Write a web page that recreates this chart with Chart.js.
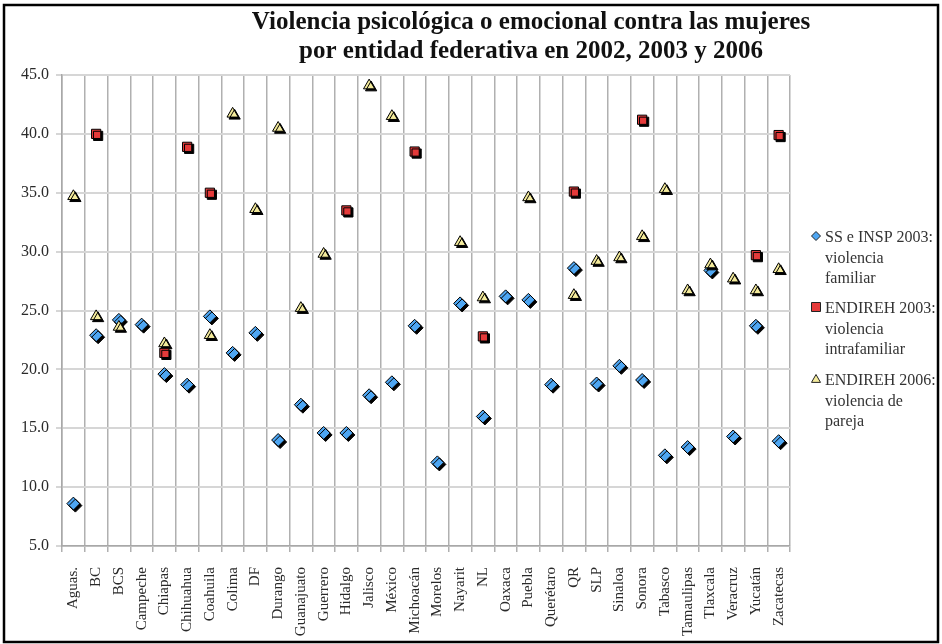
<!DOCTYPE html>
<html>
<head>
<meta charset="utf-8">
<script src="https://cdn.jsdelivr.net/npm/chart.js@4/dist/chart.umd.min.js"></script>
<style>
  body { margin: 0; background: #fff; }
  canvas { display: block; }
</style>
</head>
<body>
<canvas id="chart" width="942" height="644"></canvas>
<script>
// states (x categories)
const estados = ['Aguas.', 'BC', 'BCS', 'Campeche', 'Chiapas', 'Chihuahua', 'Coahuila', 'Colima', 'DF',
  'Durango', 'Guanajuato', 'Guerrero', 'Hidalgo', 'Jalisco', 'México', 'Michoacán', 'Morelos', 'Nayarit',
  'NL', 'Oaxaca', 'Puebla', 'Querétaro', 'QR', 'SLP', 'Sinaloa', 'Sonora', 'Tabasco', 'Tamaulipas',
  'Tlaxcala', 'Veracruz', 'Yucatán', 'Zacatecas'];

// SS e INSP 2003: violencia familiar
const ssInsp2003 = [8.6, 22.9, 24.2, 23.8, 19.6, 18.7, 24.5, 21.4, 23.1, 14.0, 17.0, 14.6, 14.6, 17.8, 18.9, 23.7,
  12.1, 25.6, 16.0, 26.2, 25.9, 18.7, 28.6, 18.8, 20.3, 19.1, 12.7, 13.4, 28.4, 14.3, 23.7, 13.9];

// ENDIREH 2003: violencia intrafamiliar
const endireh2003 = [null, 40.0, null, null, 21.4, 38.9, 35.0, null, null, null, null, null, 33.5, null, null, 38.5,
  null, null, 22.8, null, null, null, 35.1, null, null, 41.2, null, null, null, null, 29.7, 39.9];

// ENDIREH 2006: violencia de pareja
const endireh2006 = [34.7, 24.5, 23.6, null, 22.2, null, 22.9, 41.7, 33.6, 40.5, 25.2, 29.8, null, 44.1, 41.5, null,
  null, 30.8, 26.1, null, 34.6, null, 26.3, 29.2, 29.5, 31.3, 35.3, 26.7, 28.9, 27.7, 26.7, 28.5];

const yTicks = [5, 10, 15, 20, 25, 30, 35, 40, 45];

const titleLines = ['Violencia psicológica o emocional contra las mujeres',
  'por entidad federativa en 2002, 2003 y 2006'];

const legendItems = [
  { shape: 'diamond', fill: '#4ea6f2', lines: ['SS e INSP 2003:', 'violencia', 'familiar'], y: 238 },
  { shape: 'square', fill: '#e53a3a', lines: ['ENDIREH 2003:', 'violencia', 'intrafamiliar'], y: 309 },
  { shape: 'triangle', fill: '#f4eb9c', lines: ['ENDIREH 2006:', 'violencia de', 'pareja'], y: 381 }
];

const serif = '"Liberation Serif", "Times New Roman", serif';

function marker(ctx, shape, x, y, r) {
  ctx.beginPath();
  if (shape === 'diamond') {
    ctx.moveTo(x, y - r); ctx.lineTo(x + r, y); ctx.lineTo(x, y + r); ctx.lineTo(x - r, y);
  } else if (shape === 'square') {
    ctx.rect(x - r, y - r, 2 * r, 2 * r);
  } else {
    ctx.moveTo(x, y - r); ctx.lineTo(x + r, y + r * 0.75); ctx.lineTo(x - r, y + r * 0.75);
  }
  ctx.closePath();
  ctx.fill();
  ctx.stroke();
}

// drop shadows on the markers, title, legend and frame
const decor = {
  id: 'decor',
  beforeDatasetsDraw(chart) {
    const c = chart.ctx;
    c.save();
    c.shadowColor = '#000';
    c.shadowOffsetX = 2;
    c.shadowOffsetY = 2;
    c.shadowBlur = 0;
  },
  afterDatasetsDraw(chart) {
    chart.ctx.restore();
  },
  afterDraw(chart) {
    const c = chart.ctx;
    c.save();
    c.fillStyle = '#111';
    c.font = 'bold 25px ' + serif;
    c.textAlign = 'center';
    c.textBaseline = 'middle';
    c.fillText(titleLines[0], 531, 23);
    c.fillText(titleLines[1], 531, 52);

    c.font = '16px ' + serif;
    c.textAlign = 'left';
    legendItems.forEach(item => {
      c.fillStyle = item.fill;
      c.strokeStyle = '#222';
      c.lineWidth = 1;
      marker(c, item.shape, 816, item.y - 2, 4.5);
      c.fillStyle = '#333';
      item.lines.forEach((t, i) => c.fillText(t, 825, item.y + i * 20.5));
    });

    // outer frame
    c.strokeStyle = '#000';
    c.lineWidth = 2.5;
    c.strokeRect(4, 5, 934, 637);
    c.restore();
  }
};

new Chart(document.getElementById('chart'), {
  type: 'line',
  data: {
    labels: estados,
    datasets: [
      {
        label: 'SS e INSP 2003: violencia familiar',
        data: ssInsp2003,
        pointStyle: 'rectRot',
        pointRadius: 6.5,
        backgroundColor: '#4ea6f2',
        borderColor: '#000',
        pointBorderWidth: 1,
        showLine: false,
        order: 2
      },
      {
        label: 'ENDIREH 2003: violencia intrafamiliar',
        data: endireh2003,
        pointStyle: 'rect',
        pointRadius: 6.5,
        backgroundColor: '#e53a3a',
        borderColor: '#000',
        pointBorderWidth: 1,
        showLine: false,
        order: 0
      },
      {
        label: 'ENDIREH 2006: violencia de pareja',
        data: endireh2006,
        pointStyle: 'triangle',
        pointRadius: 6.5,
        backgroundColor: '#f4eb9c',
        borderColor: '#000',
        pointBorderWidth: 1,
        showLine: false,
        order: 1
      }
    ]
  },
  options: {
    responsive: false,
    animation: false,
    layout: { padding: { left: 0, right: 152, top: 75, bottom: 0 } },
    plugins: {
      legend: { display: false },
      tooltip: { enabled: false }
    },
    scales: {
      x: {
        offset: true,
        grid: { offset: true, color: '#b0b0b0', lineWidth: 1.5, tickLength: 6 },
        border: { color: '#a8a8a8', width: 1.5 },
        ticks: {
          autoSkip: false,
          minRotation: 90,
          maxRotation: 90,
          padding: 15,
          color: '#2a2a2a',
          font: { family: serif, size: 15 }
        },
        afterFit(scale) { scale.height = 98; }
      },
      y: {
        min: 5,
        max: 45,
        afterBuildTicks(scale) { scale.ticks = yTicks.map(v => ({ value: v })); },
        grid: { color: '#d6d6d6', lineWidth: 2, tickLength: 6 },
        border: { color: '#a8a8a8', width: 1.5 },
        ticks: {
          padding: 7,
          color: '#2a2a2a',
          font: { family: serif, size: 16 },
          callback: v => v.toFixed(1)
        },
        afterFit(scale) { scale.width = 62; }
      }
    }
  },
  plugins: [decor]
});
</script>
</body>
</html>
